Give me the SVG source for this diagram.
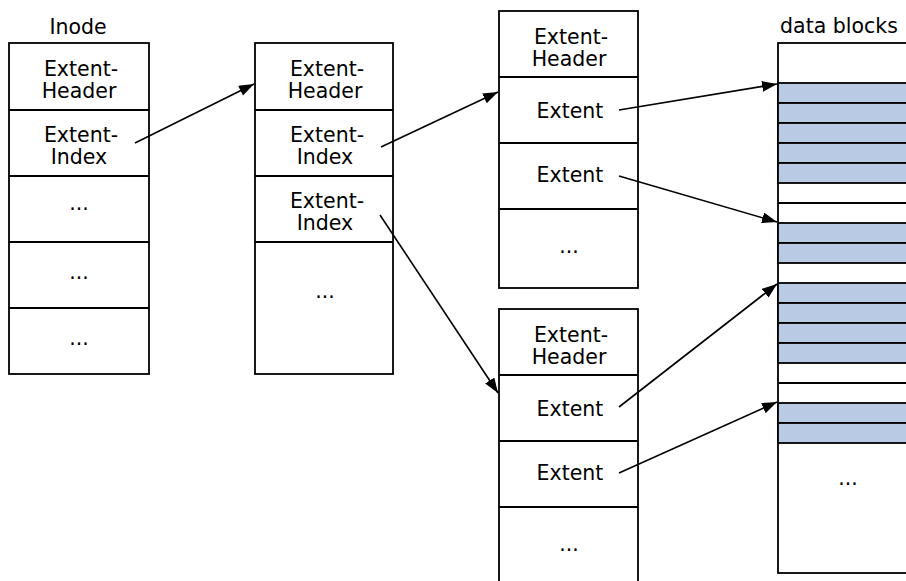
<svg xmlns="http://www.w3.org/2000/svg" width="906" height="581" viewBox="0 0 906 581">
<style>
.box{fill:#fff;stroke:#000;stroke-width:1.8}
.div{stroke:#000;stroke-width:1.8}
.blk{fill:#B9CAE4;stroke:#000;stroke-width:1.8}
text{font-family:"DejaVu Sans","Liberation Sans",sans-serif;font-size:20.5px;fill:#000;text-anchor:middle}
.conn{stroke:#000;stroke-width:1.6;fill:none;marker-end:url(#ah)}
</style>
<defs>
<marker id="ah" markerUnits="userSpaceOnUse" markerWidth="18" markerHeight="12" refX="15" refY="5.5" orient="auto">
<path d="M0,0 L15,5.5 L0,11 Z" fill="#000"/>
</marker>
</defs>
<g id="inode">
<text x="78" y="34">Inode</text>
<rect class="box" x="9" y="43" width="140" height="331"/>
<line class="div" x1="9" y1="110" x2="149" y2="110"/>
<line class="div" x1="9" y1="176" x2="149" y2="176"/>
<line class="div" x1="9" y1="242" x2="149" y2="242"/>
<line class="div" x1="9" y1="308" x2="149" y2="308"/>
<text x="81" y="76">Extent-</text><text x="79" y="98">Header</text>
<text x="81" y="142">Extent-</text><text x="79" y="164">Index</text>
<text x="79" y="210">...</text>
<text x="79" y="279">...</text>
<text x="79" y="345">...</text>
</g>
<g id="index1">
<rect class="box" x="255" y="43" width="138" height="331"/>
<line class="div" x1="255" y1="110" x2="393" y2="110"/>
<line class="div" x1="255" y1="176" x2="393" y2="176"/>
<line class="div" x1="255" y1="242" x2="393" y2="242"/>
<text x="327" y="76">Extent-</text><text x="325" y="98">Header</text>
<text x="327" y="142">Extent-</text><text x="325" y="164">Index</text>
<text x="327" y="208">Extent-</text><text x="325" y="230">Index</text>
<text x="325" y="298">...</text>
</g>
<g id="leaf1">
<rect class="box" x="499" y="11" width="139" height="277"/>
<line class="div" x1="499" y1="77" x2="638" y2="77"/>
<line class="div" x1="499" y1="143" x2="638" y2="143"/>
<line class="div" x1="499" y1="209" x2="638" y2="209"/>
<text x="571" y="44">Extent-</text><text x="569" y="66">Header</text>
<text x="570" y="118">Extent</text>
<text x="570" y="182">Extent</text>
<text x="569" y="253">...</text>
</g>
<g id="leaf2">
<rect class="box" x="499" y="309" width="139" height="285"/>
<line class="div" x1="499" y1="375" x2="638" y2="375"/>
<line class="div" x1="499" y1="441" x2="638" y2="441"/>
<line class="div" x1="499" y1="507" x2="638" y2="507"/>
<text x="571" y="342">Extent-</text><text x="569" y="364">Header</text>
<text x="570" y="416">Extent</text>
<text x="570" y="480">Extent</text>
<text x="569" y="551">...</text>
</g>
<g id="datablocks">
<text x="839" y="33">data blocks</text>
<rect class="box" x="778" y="43" width="150" height="530"/>
<rect class="blk" x="778" y="83" width="150" height="20"/>
<rect class="blk" x="778" y="103" width="150" height="20"/>
<rect class="blk" x="778" y="123" width="150" height="20"/>
<rect class="blk" x="778" y="143" width="150" height="20"/>
<rect class="blk" x="778" y="163" width="150" height="20"/>
<line class="div" x1="778" y1="203" x2="928" y2="203"/>
<rect class="blk" x="778" y="223" width="150" height="20"/>
<rect class="blk" x="778" y="243" width="150" height="20"/>
<rect class="blk" x="778" y="283" width="150" height="20"/>
<rect class="blk" x="778" y="303" width="150" height="20"/>
<rect class="blk" x="778" y="323" width="150" height="20"/>
<rect class="blk" x="778" y="343" width="150" height="20"/>
<line class="div" x1="778" y1="383" x2="928" y2="383"/>
<rect class="blk" x="778" y="403" width="150" height="20"/>
<rect class="blk" x="778" y="423" width="150" height="20"/>
<text x="848" y="485">...</text>
</g>
<g id="connectors">
<line class="conn" x1="135" y1="143" x2="254" y2="84"/>
<line class="conn" x1="381" y1="147" x2="498" y2="92"/>
<line class="conn" x1="380" y1="215" x2="498" y2="393"/>
<line class="conn" x1="619" y1="110" x2="777" y2="84"/>
<line class="conn" x1="619" y1="176" x2="777" y2="222"/>
<line class="conn" x1="619" y1="407" x2="777" y2="284"/>
<line class="conn" x1="619" y1="473" x2="777" y2="402"/>
</g>
</svg>
